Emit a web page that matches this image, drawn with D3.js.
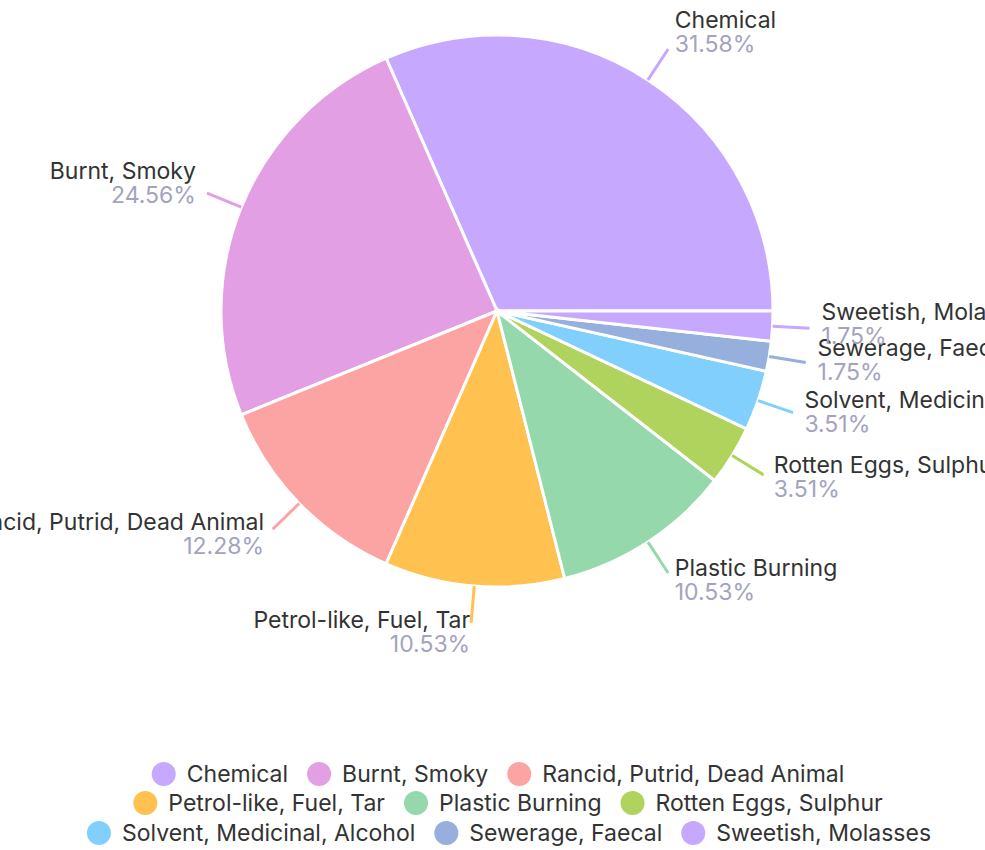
<!DOCTYPE html>
<html>
<head>
<meta charset="utf-8">
<script src="https://cdn.jsdelivr.net/npm/d3@7"></script>
<style>
  body { margin: 0; background: #fff; }
  svg { display: block; font-family: "Inter", "Open Sans", sans-serif; }
</style>
</head>
<body>
<div class="visual"></div>
<script>
const categories = ["Chemical", "Burnt, Smoky", "Rancid, Putrid, Dead Animal", "Petrol-like, Fuel, Tar",
    "Plastic Burning", "Rotten Eggs, Sulphur", "Solvent, Medicinal, Alcohol", "Sewerage, Faecal", "Sweetish, Molasses"];
const counts = [18, 14, 7, 6, 6, 2, 2, 1, 1];
const colors = ["#c6a8fe", "#e29fe3", "#fca4a4", "#ffc150", "#94d8ab", "#b0d35e", "#80cffc", "#96afdc", "#c6a8fe"];
const legendRows = [[0, 1, 2], [3, 4, 5], [6, 7, 8]];

const width = 985, height = 850;
const cx = 497, cy = 311, radius = 276;
const tickLen = 37;
const fontSize = "23px";

const total = d3.sum(counts);
const dataset = categories.map((c, i) => ({ name: c, value: counts[i], color: colors[i] }));

const svg = d3.select(".visual")
    .append("svg")
    .attr("width", width)
    .attr("height", height);

const pie = d3.pie()
    .value(d => d.value)
    .sort(null)
    .startAngle(Math.PI / 2)
    .endAngle(Math.PI / 2 - 2 * Math.PI);

const arc = d3.arc().innerRadius(0).outerRadius(radius);

const g = svg.append("g").attr("transform", `translate(${cx}, ${cy})`);
const arcs = pie(dataset);

g.selectAll("path.slice")
    .data(arcs)
    .enter()
    .append("path")
    .attr("class", "slice")
    .attr("d", arc)
    .attr("fill", d => d.data.color)
    .attr("stroke", "#fff")
    .attr("stroke-width", 3);

// ticks and labels
arcs.forEach(d => {
    const mid = (d.startAngle + d.endAngle) / 2;
    const dx = Math.sin(mid), dy = -Math.cos(mid);
    const x0 = dx * radius, y0 = dy * radius;
    const x1 = dx * (radius + tickLen), y1 = dy * (radius + tickLen);

    g.append("line")
        .attr("x1", x0).attr("y1", y0)
        .attr("x2", x1).attr("y2", y1)
        .attr("stroke", d.data.color)
        .attr("stroke-width", 3);

    const right = dx >= 0;
    const gap = 12 * Math.abs(dx);
    const tx = x1 + (right ? gap : -gap);
    const blockC = y1 - 5 + 14 * dy;

    g.append("text")
        .attr("x", tx)
        .attr("y", blockC - 12)
        .attr("text-anchor", right ? "start" : "end")
        .attr("dominant-baseline", "central")
        .style("font-size", fontSize)
        .style("fill", "#333")
        .text(d.data.name);

    g.append("text")
        .attr("x", tx)
        .attr("y", blockC + 12)
        .attr("text-anchor", right ? "start" : "end")
        .attr("dominant-baseline", "central")
        .style("font-size", fontSize)
        .style("fill", "#a3a3bf")
        .text((d.data.value / total * 100).toFixed(2) + "%");
});

// legend
const legendY = [774, 803, 833];
const legendCx = [498, 508, 509];
legendRows.forEach((row, ri) => {
    const rowG = svg.append("g");
    let x = 0;
    row.forEach(i => {
        const item = rowG.append("g").attr("transform", `translate(${x}, 0)`);
        item.append("circle")
            .attr("cx", 12).attr("cy", 0).attr("r", 12)
            .attr("fill", colors[i]);
        const t = item.append("text")
            .attr("x", 35)
            .attr("y", 0)
            .attr("dominant-baseline", "central")
            .style("font-size", fontSize)
            .style("fill", "#333")
            .text(categories[i]);
        x += 35 + t.node().getComputedTextLength() + 19;
    });
    const rowW = x - 19;
    rowG.attr("transform", `translate(${legendCx[ri] - rowW / 2}, ${legendY[ri]})`);
});
</script>
</body>
</html>
